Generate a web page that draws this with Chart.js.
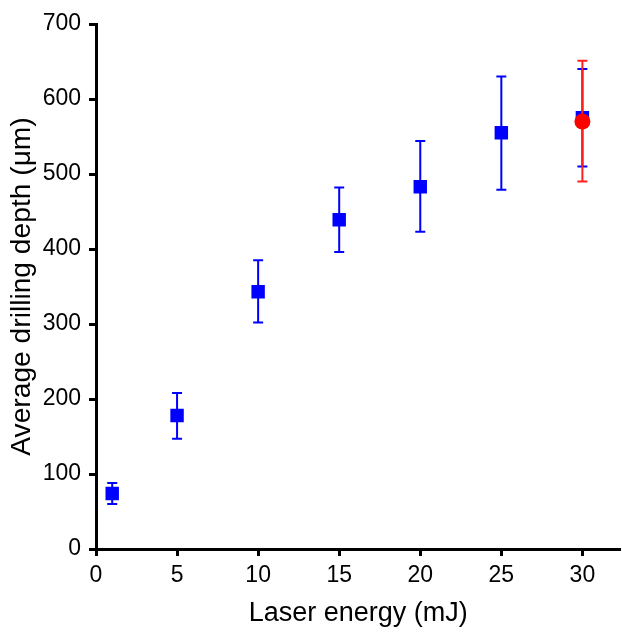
<!DOCTYPE html>
<html>
<head>
    <title>Drilling depth vs laser energy</title>
    <script src="https://cdn.jsdelivr.net/npm/chart.js"></script>
    <style>
        html, body { margin: 0; background: #fff; overflow: hidden; }
        .container { width: 622px; height: 632px; overflow: hidden; }
    </style>
</head>
<body>
    <div class="container">
        <!-- a little wider than the window so the x axis runs to the right edge -->
        <canvas id="depthChart" width="630" height="632"></canvas>
    </div>
    <script>
        // values
        const energy = [1, 5, 10, 15, 20, 25, 30];
        const depth = [74, 178, 343, 439, 483, 555, 575];
        const depthLow = [60, 147, 302, 396, 423, 479, 510];
        const depthHigh = [88, 208, 385, 482, 544, 630, 640];

        const redEnergy = [30];
        const redDepth = [570];
        const redLow = [490];
        const redHigh = [651];

        const xTicks = [0, 5, 10, 15, 20, 25, 30];
        const yTicks = [0, 100, 200, 300, 400, 500, 600, 700];

        function toPoints(xs, ys) {
            return xs.map((x, i) => ({ x: x, y: ys[i] }));
        }

        // draws vertical error bars with caps before each dataset's markers
        const errorBars = {
            id: 'errorBars',
            beforeDatasetDraw(chart, args) {
                const ds = chart.data.datasets[args.index];
                if (!ds.low) return;
                const xs = chart.scales.x, ys = chart.scales.y;
                const ctx = chart.ctx;
                ctx.save();
                ctx.strokeStyle = ds.barColor;
                ctx.lineWidth = 2;
                ds.data.forEach((p, i) => {
                    const px = xs.getPixelForValue(p.x);
                    const top = ys.getPixelForValue(ds.high[i]);
                    const bot = ys.getPixelForValue(ds.low[i]);
                    ctx.beginPath();
                    ctx.moveTo(px, top); ctx.lineTo(px, bot);
                    ctx.moveTo(px - ds.capHalf, top); ctx.lineTo(px + ds.capHalf, top);
                    ctx.moveTo(px - ds.capHalf, bot); ctx.lineTo(px + ds.capHalf, bot);
                    ctx.stroke();
                });
                ctx.restore();
            }
        };

        const family = 'Liberation Sans, Arial, sans-serif';
        const tickFont = { family: family, size: 23 };

        new Chart(document.getElementById('depthChart'), {
            type: 'scatter',
            data: {
                datasets: [
                    {
                        data: toPoints(redEnergy, redDepth),
                        low: redLow, high: redHigh,
                        barColor: '#ff2020', capHalf: 5,
                        pointStyle: 'circle',
                        pointRadius: 8,
                        backgroundColor: '#ff0000',
                        borderWidth: 0,
                        order: 0
                    },
                    {
                        data: toPoints(energy, depth),
                        low: depthLow, high: depthHigh,
                        barColor: '#0000ff', capHalf: 5,
                        pointStyle: 'rect',
                        pointRadius: 9.5,
                        backgroundColor: '#0000ff',
                        borderWidth: 0,
                        order: 1
                    }
                ]
            },
            plugins: [errorBars],
            options: {
                responsive: false,
                animation: false,
                layout: { padding: { top: 24, right: 0, left: 0, bottom: 0 } },
                plugins: {
                    legend: { display: false },
                    tooltip: { enabled: false }
                },
                scales: {
                    x: {
                        type: 'linear',
                        min: 0,
                        max: 32.35,
                        afterBuildTicks: axis => { axis.ticks = xTicks.map(v => ({ value: v })); },
                        afterFit: axis => { axis.height = 83; axis.paddingRight = 0; },
                        grid: {
                            drawOnChartArea: false,
                            tickLength: 7,
                            tickWidth: 3,
                            tickColor: '#000'
                        },
                        border: { color: '#000', width: 3 },
                        ticks: { color: '#000', font: tickFont, padding: 6, maxRotation: 0 },
                        title: {
                            display: true,
                            text: 'Laser energy (mJ)',
                            color: '#000',
                            font: { family: family, size: 27 },
                            padding: { top: 4, bottom: 2 }
                        }
                    },
                    y: {
                        min: 0,
                        max: 700,
                        afterBuildTicks: axis => { axis.ticks = yTicks.map(v => ({ value: v })); },
                        afterFit: axis => { axis.width = 96; },
                        grid: {
                            drawOnChartArea: false,
                            tickLength: 7,
                            tickWidth: 3,
                            tickColor: '#000'
                        },
                        border: { color: '#000', width: 3 },
                        ticks: { color: '#000', font: tickFont, padding: 8 },
                        title: {
                            display: true,
                            text: 'Average drilling depth (\u03bcm)',
                            color: '#000',
                            font: { family: family, size: 28.2 },
                            padding: { top: 5, bottom: 0 }
                        }
                    }
                }
            }
        });
    </script>
</body>
</html>
